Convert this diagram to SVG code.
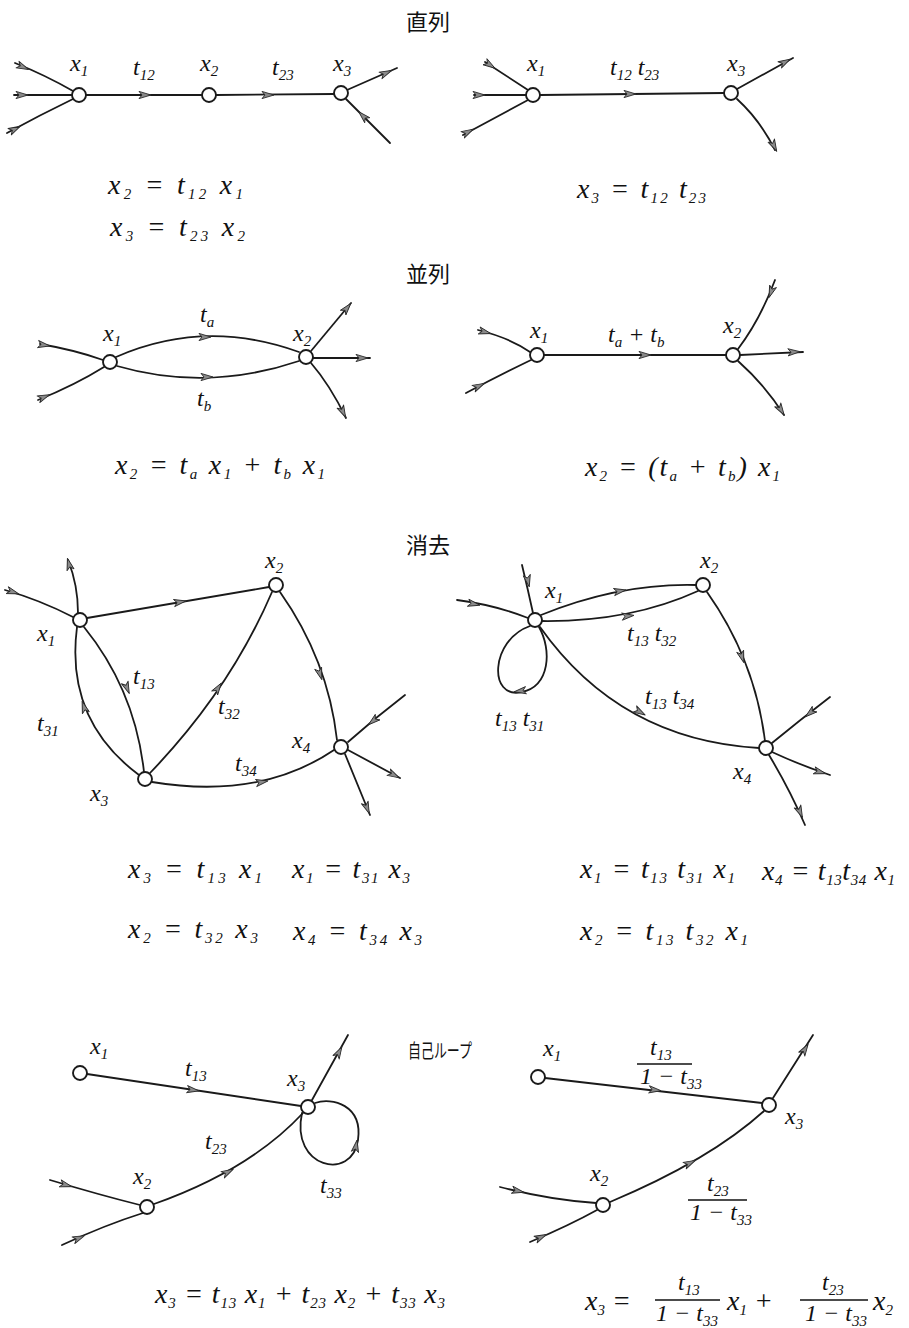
<svg xmlns="http://www.w3.org/2000/svg" xmlns:xlink="http://www.w3.org/1999/xlink" width="909" height="1328" viewBox="0 0 909 1328">
<style>
.e{fill:none;stroke:#1a1a1a;stroke-width:1.8;stroke-linecap:round}
.n{fill:#fff;stroke:#1a1a1a;stroke-width:1.9}
.lb{font-family:"Liberation Serif",serif;font-style:italic;font-size:24px;fill:#111}
.eq{font-family:"Liberation Serif",serif;font-style:italic;font-size:28px;fill:#111}
.sb{font-size:15px}
.ttl{font-family:"Noto Sans CJK JP","Noto Sans CJK SC",sans-serif;font-size:22px;fill:#111;text-anchor:middle}
.fr{stroke:#111;stroke-width:1.4}
</style>
<defs>
<path id="ah" d="M6,0 L-6,-3.6 L-3,0 L-6,3.6 Z" fill="#8a8a8a" stroke="#2a2a2a" stroke-width="0.9" stroke-linejoin="round"/>
</defs>
<rect width="909" height="1328" fill="#fff"/>

<!-- titles -->
<g id="titles">
<text class="ttl" x="428" y="30">直列</text>
<text class="ttl" x="428" y="282">並列</text>
<text class="ttl" x="428" y="553">消去</text>
<text class="ttl" x="440" y="1058" style="font-size:19px" textLength="64" lengthAdjust="spacingAndGlyphs">自己ループ</text>
</g>

<g id="connectors">
<!-- S1 left -->
<path class="e" d="M15,63 Q45,75 73,91"/><use xlink:href="#ah" transform="translate(23,67) rotate(24)"/>
<path class="e" d="M14,95 L72,95"/><use xlink:href="#ah" transform="translate(22,95)"/>
<path class="e" d="M7,133 Q40,115 73,99"/><use xlink:href="#ah" transform="translate(15,129) rotate(-27)"/>
<path class="e" d="M86,95 L202,95"/><use xlink:href="#ah" transform="translate(145,95)"/>
<path class="e" d="M216,95 L334,94"/><use xlink:href="#ah" transform="translate(268,95)"/>
<path class="e" d="M347,90 L397,68"/><use xlink:href="#ah" transform="translate(386,73) rotate(-24)"/>
<path class="e" d="M390,143 L346,99"/><use xlink:href="#ah" transform="translate(363,116) rotate(-135)"/>
<!-- S1 right -->
<path class="e" d="M485,62 L528,90"/><use xlink:href="#ah" transform="translate(490,65) rotate(33)"/>
<path class="e" d="M474,95 L526,95"/><use xlink:href="#ah" transform="translate(479,95)"/>
<path class="e" d="M463,135 L528,100"/><use xlink:href="#ah" transform="translate(468,132) rotate(-28)"/>
<path class="e" d="M540,95 L724,93"/><use xlink:href="#ah" transform="translate(630,94)"/>
<path class="e" d="M737,89 L793,58"/><use xlink:href="#ah" transform="translate(785,62) rotate(-29)"/>
<path class="e" d="M737,99 Q760,120 775,150"/><use xlink:href="#ah" transform="translate(774,146) rotate(63)"/>
<!-- S2 left -->
<path class="e" d="M116,357 Q205,318 299,352"/><use xlink:href="#ah" transform="translate(205,337)"/>
<path class="e" d="M117,366 Q207,392 299,361"/><use xlink:href="#ah" transform="translate(207,377)"/>
<path class="e" d="M40,344 Q75,350 103,360"/><use xlink:href="#ah" transform="translate(44,345) rotate(9)"/>
<path class="e" d="M38,400 Q75,385 104,367"/><use xlink:href="#ah" transform="translate(44,397) rotate(-22)"/>
<path class="e" d="M311,351 L351,303"/><use xlink:href="#ah" transform="translate(347,308) rotate(-50)"/>
<path class="e" d="M313,358 L370,358"/><use xlink:href="#ah" transform="translate(362,358)"/>
<path class="e" d="M311,363 Q330,385 346,418"/><use xlink:href="#ah" transform="translate(343,412) rotate(64)"/>
<!-- S2 right -->
<path class="e" d="M478,330 Q510,338 530,352"/><use xlink:href="#ah" transform="translate(485,332) rotate(15)"/>
<path class="e" d="M466,393 Q500,375 531,360"/><use xlink:href="#ah" transform="translate(479,386) rotate(-26)"/>
<path class="e" d="M544,355 L726,355"/><use xlink:href="#ah" transform="translate(645,355)"/>
<path class="e" d="M775,280 Q760,320 738,349"/><use xlink:href="#ah" transform="translate(771,292) rotate(110)"/>
<path class="e" d="M740,355 L803,352"/><use xlink:href="#ah" transform="translate(794,352) rotate(-3)"/>
<path class="e" d="M738,361 Q765,385 784,415"/><use xlink:href="#ah" transform="translate(781,410) rotate(58)"/>
<!-- S3 left -->
<path class="e" d="M87,618 L269,587"/><use xlink:href="#ah" transform="translate(180,602) rotate(-10)"/>
<path class="e" d="M280,592 Q328,660 337,740"/><use xlink:href="#ah" transform="translate(320,674) rotate(72)"/>
<path class="e" d="M84,627 Q135,690 144,772"/><use xlink:href="#ah" transform="translate(127,688) rotate(68)"/>
<path class="e" d="M139,775 Q65,720 77,627"/><use xlink:href="#ah" transform="translate(84,707) rotate(-108)"/>
<path class="e" d="M150,773 Q230,690 272,592"/><use xlink:href="#ah" transform="translate(218,688) rotate(-56)"/>
<path class="e" d="M152,782 Q260,800 334,750"/><use xlink:href="#ah" transform="translate(262,782) rotate(-10)"/>
<path class="e" d="M5,590 Q40,600 73,617"/><use xlink:href="#ah" transform="translate(13,592) rotate(18)"/>
<path class="e" d="M78,613 Q78,585 68,560"/><use xlink:href="#ah" transform="translate(69,564) rotate(-105)"/>
<path class="e" d="M405,695 Q375,718 348,742"/><use xlink:href="#ah" transform="translate(373,721) rotate(140)"/>
<path class="e" d="M348,750 L400,778"/><use xlink:href="#ah" transform="translate(394,775) rotate(28)"/>
<path class="e" d="M345,754 L370,815"/><use xlink:href="#ah" transform="translate(367,808) rotate(68)"/>
<!-- S3 right -->
<path class="e" d="M541,615 Q620,583 696,585"/><use xlink:href="#ah" transform="translate(620,591) rotate(-10)"/>
<path class="e" d="M542,621 Q630,622 698,591"/><use xlink:href="#ah" transform="translate(628,616) rotate(-6)"/>
<path class="e" d="M540,627 Q620,740 759,748"/><use xlink:href="#ah" transform="translate(640,712) rotate(30)"/>
<path class="e" d="M707,592 Q755,660 765,741"/><use xlink:href="#ah" transform="translate(742,657) rotate(72)"/>
<path class="e" d="M530,626 C490,640 488,700 522,692 C550,686 552,650 539,627"/><use xlink:href="#ah" transform="translate(520,691) rotate(172)"/>
<path class="e" d="M522,565 Q528,590 533,613"/><use xlink:href="#ah" transform="translate(528,581) rotate(78)"/>
<path class="e" d="M457,600 Q495,605 528,618"/><use xlink:href="#ah" transform="translate(474,604) rotate(12)"/>
<path class="e" d="M830,697 Q800,720 772,743"/><use xlink:href="#ah" transform="translate(810,713) rotate(140)"/>
<path class="e" d="M772,752 Q800,765 830,775"/><use xlink:href="#ah" transform="translate(820,772) rotate(16)"/>
<path class="e" d="M769,755 Q790,790 805,825"/><use xlink:href="#ah" transform="translate(800,812) rotate(66)"/>
<!-- S4 left -->
<path class="e" d="M87,1074 L301,1106"/><use xlink:href="#ah" transform="translate(193,1090) rotate(8.5)"/>
<path class="e" d="M154,1204 Q250,1170 303,1113"/><use xlink:href="#ah" transform="translate(228,1172) rotate(-28)"/>
<path class="e" d="M302,1113 C290,1168 352,1182 358,1140 C363,1105 332,1097 315,1103"/><use xlink:href="#ah" transform="translate(356,1146) rotate(-80)"/>
<path class="e" d="M312,1100 L348,1035"/><use xlink:href="#ah" transform="translate(339,1052) rotate(-61)"/>
<path class="e" d="M50,1180 Q100,1195 140,1205"/><use xlink:href="#ah" transform="translate(66,1185) rotate(16)"/>
<path class="e" d="M62,1245 Q105,1225 143,1213"/><use xlink:href="#ah" transform="translate(79,1238) rotate(-22)"/>
<!-- S4 right -->
<path class="e" d="M545,1078 L762,1103"/><use xlink:href="#ah" transform="translate(655,1090) rotate(6.5)"/>
<path class="e" d="M610,1202 Q710,1160 764,1111"/><use xlink:href="#ah" transform="translate(690,1163) rotate(-26)"/>
<path class="e" d="M773,1098 L813,1035"/><use xlink:href="#ah" transform="translate(805,1049) rotate(-58)"/>
<path class="e" d="M500,1187 Q550,1200 596,1203"/><use xlink:href="#ah" transform="translate(518,1191) rotate(12)"/>
<path class="e" d="M530,1242 Q570,1225 597,1210"/><use xlink:href="#ah" transform="translate(541,1237) rotate(-25)"/>
</g>

<!-- nodes: series -->
<g id="s1L_x1"><circle class="n" cx="79" cy="95" r="7"/><text class="lb" x="70" y="71">x<tspan class="sb" dy="5">1</tspan></text></g>
<g id="s1L_x2"><circle class="n" cx="209" cy="95" r="7"/><text class="lb" x="200" y="71">x<tspan class="sb" dy="5">2</tspan></text></g>
<g id="s1L_x3"><circle class="n" cx="341" cy="93" r="7"/><text class="lb" x="333" y="71">x<tspan class="sb" dy="5">3</tspan></text></g>
<g id="s1L_labels">
<text class="lb" x="133" y="75">t<tspan class="sb" dy="5">12</tspan></text>
<text class="lb" x="272" y="75">t<tspan class="sb" dy="5">23</tspan></text>
<text class="eq" x="108" y="194" textLength="135">x<tspan class="sb" dy="5">2</tspan><tspan dy="-5"> = t</tspan><tspan class="sb" dy="5">12</tspan><tspan dy="-5"> x</tspan><tspan class="sb" dy="5">1</tspan></text>
<text class="eq" x="110" y="236" textLength="135">x<tspan class="sb" dy="5">3</tspan><tspan dy="-5"> = t</tspan><tspan class="sb" dy="5">23</tspan><tspan dy="-5"> x</tspan><tspan class="sb" dy="5">2</tspan></text>
</g>
<g id="s1R_x1"><circle class="n" cx="533" cy="95" r="7"/><text class="lb" x="527" y="71">x<tspan class="sb" dy="5">1</tspan></text></g>
<g id="s1R_x3"><circle class="n" cx="731" cy="93" r="7"/><text class="lb" x="727" y="71">x<tspan class="sb" dy="5">3</tspan></text></g>
<g id="s1R_labels">
<text class="lb" x="610" y="75">t<tspan class="sb" dy="5">12</tspan><tspan dy="-5"> t</tspan><tspan class="sb" dy="5">23</tspan></text>
<text class="eq" x="577" y="198" textLength="129">x<tspan class="sb" dy="5">3</tspan><tspan dy="-5"> = t</tspan><tspan class="sb" dy="5">12</tspan><tspan dy="-5"> t</tspan><tspan class="sb" dy="5">23</tspan></text>
</g>

<!-- parallel -->
<g id="s2L_x1"><circle class="n" cx="110" cy="362" r="7"/><text class="lb" x="103" y="341">x<tspan class="sb" dy="5">1</tspan></text></g>
<g id="s2L_x2"><circle class="n" cx="306" cy="357" r="7"/><text class="lb" x="293" y="341">x<tspan class="sb" dy="5">2</tspan></text></g>
<g id="s2L_labels">
<text class="lb" x="200" y="322">t<tspan class="sb" dy="5">a</tspan></text>
<text class="lb" x="197" y="406">t<tspan class="sb" dy="5">b</tspan></text>
<text class="eq" x="115" y="474" textLength="210">x<tspan class="sb" dy="5">2</tspan><tspan dy="-5"> = t</tspan><tspan class="sb" dy="5">a</tspan><tspan dy="-5"> x</tspan><tspan class="sb" dy="5">1</tspan><tspan dy="-5"> + t</tspan><tspan class="sb" dy="5">b</tspan><tspan dy="-5"> x</tspan><tspan class="sb" dy="5">1</tspan></text>
</g>
<g id="s2R_x1"><circle class="n" cx="537" cy="355" r="7"/><text class="lb" x="530" y="338">x<tspan class="sb" dy="5">1</tspan></text></g>
<g id="s2R_x2"><circle class="n" cx="733" cy="355" r="7"/><text class="lb" x="723" y="333">x<tspan class="sb" dy="5">2</tspan></text></g>
<g id="s2R_labels">
<text class="lb" x="608" y="342">t<tspan class="sb" dy="5">a</tspan><tspan dy="-5"> + t</tspan><tspan class="sb" dy="5">b</tspan></text>
<text class="eq" x="585" y="476" textLength="195">x<tspan class="sb" dy="5">2</tspan><tspan dy="-5"> = (t</tspan><tspan class="sb" dy="5">a</tspan><tspan dy="-5"> + t</tspan><tspan class="sb" dy="5">b</tspan><tspan dy="-5">) x</tspan><tspan class="sb" dy="5">1</tspan></text>
</g>

<!-- elimination -->
<g id="s3L_x1"><circle class="n" cx="80" cy="620" r="7"/><text class="lb" x="37" y="641">x<tspan class="sb" dy="5">1</tspan></text></g>
<g id="s3L_x2"><circle class="n" cx="276" cy="585" r="7"/><text class="lb" x="265" y="568">x<tspan class="sb" dy="5">2</tspan></text></g>
<g id="s3L_x3"><circle class="n" cx="145" cy="779" r="7"/><text class="lb" x="90" y="801">x<tspan class="sb" dy="5">3</tspan></text></g>
<g id="s3L_x4"><circle class="n" cx="341" cy="747" r="7"/><text class="lb" x="292" y="748">x<tspan class="sb" dy="5">4</tspan></text></g>
<g id="s3L_labels">
<text class="lb" x="133" y="684">t<tspan class="sb" dy="5">13</tspan></text>
<text class="lb" x="37" y="731">t<tspan class="sb" dy="5">31</tspan></text>
<text class="lb" x="218" y="714">t<tspan class="sb" dy="5">32</tspan></text>
<text class="lb" x="235" y="771">t<tspan class="sb" dy="5">34</tspan></text>
<text class="eq" x="128" y="878" textLength="134">x<tspan class="sb" dy="5">3</tspan><tspan dy="-5"> = t</tspan><tspan class="sb" dy="5">13</tspan><tspan dy="-5"> x</tspan><tspan class="sb" dy="5">1</tspan></text>
<text class="eq" x="292" y="878" textLength="118">x<tspan class="sb" dy="5">1</tspan><tspan dy="-5"> = t</tspan><tspan class="sb" dy="5">31</tspan><tspan dy="-5"> x</tspan><tspan class="sb" dy="5">3</tspan></text>
<text class="eq" x="128" y="938" textLength="130">x<tspan class="sb" dy="5">2</tspan><tspan dy="-5"> = t</tspan><tspan class="sb" dy="5">32</tspan><tspan dy="-5"> x</tspan><tspan class="sb" dy="5">3</tspan></text>
<text class="eq" x="293" y="940" textLength="129">x<tspan class="sb" dy="5">4</tspan><tspan dy="-5"> = t</tspan><tspan class="sb" dy="5">34</tspan><tspan dy="-5"> x</tspan><tspan class="sb" dy="5">3</tspan></text>
</g>
<g id="s3R_x1"><circle class="n" cx="535" cy="620" r="7"/><text class="lb" x="545" y="598">x<tspan class="sb" dy="5">1</tspan></text></g>
<g id="s3R_x2"><circle class="n" cx="703" cy="585" r="7"/><text class="lb" x="700" y="568">x<tspan class="sb" dy="5">2</tspan></text></g>
<g id="s3R_x4"><circle class="n" cx="766" cy="748" r="7"/><text class="lb" x="733" y="779">x<tspan class="sb" dy="5">4</tspan></text></g>
<g id="s3R_labels">
<text class="lb" x="627" y="641">t<tspan class="sb" dy="5">13</tspan><tspan dy="-5"> t</tspan><tspan class="sb" dy="5">32</tspan></text>
<text class="lb" x="645" y="704">t<tspan class="sb" dy="5">13</tspan><tspan dy="-5"> t</tspan><tspan class="sb" dy="5">34</tspan></text>
<text class="lb" x="495" y="726">t<tspan class="sb" dy="5">13</tspan><tspan dy="-5"> t</tspan><tspan class="sb" dy="5">31</tspan></text>
<text class="eq" x="580" y="878" textLength="155">x<tspan class="sb" dy="5">1</tspan><tspan dy="-5"> = t</tspan><tspan class="sb" dy="5">13</tspan><tspan dy="-5"> t</tspan><tspan class="sb" dy="5">31</tspan><tspan dy="-5"> x</tspan><tspan class="sb" dy="5">1</tspan></text>
<text class="eq" x="762" y="880" textLength="133">x<tspan class="sb" dy="5">4</tspan><tspan dy="-5"> = t</tspan><tspan class="sb" dy="5">13</tspan><tspan dy="-5">t</tspan><tspan class="sb" dy="5">34</tspan><tspan dy="-5"> x</tspan><tspan class="sb" dy="5">1</tspan></text>
<text class="eq" x="580" y="940" textLength="168">x<tspan class="sb" dy="5">2</tspan><tspan dy="-5"> = t</tspan><tspan class="sb" dy="5">13</tspan><tspan dy="-5"> t</tspan><tspan class="sb" dy="5">32</tspan><tspan dy="-5"> x</tspan><tspan class="sb" dy="5">1</tspan></text>
</g>

<!-- self loop -->
<g id="s4L_x1"><circle class="n" cx="80" cy="1073" r="7"/><text class="lb" x="90" y="1054">x<tspan class="sb" dy="5">1</tspan></text></g>
<g id="s4L_x3"><circle class="n" cx="308" cy="1107" r="7"/><text class="lb" x="287" y="1086">x<tspan class="sb" dy="5">3</tspan></text></g>
<g id="s4L_x2"><circle class="n" cx="147" cy="1207" r="7"/><text class="lb" x="133" y="1184">x<tspan class="sb" dy="5">2</tspan></text></g>
<g id="s4L_labels">
<text class="lb" x="185" y="1076">t<tspan class="sb" dy="5">13</tspan></text>
<text class="lb" x="205" y="1149">t<tspan class="sb" dy="5">23</tspan></text>
<text class="lb" x="320" y="1193">t<tspan class="sb" dy="5">33</tspan></text>
<text class="eq" x="155" y="1303" textLength="290">x<tspan class="sb" dy="5">3</tspan><tspan dy="-5"> = t</tspan><tspan class="sb" dy="5">13</tspan><tspan dy="-5"> x</tspan><tspan class="sb" dy="5">1</tspan><tspan dy="-5"> + t</tspan><tspan class="sb" dy="5">23</tspan><tspan dy="-5"> x</tspan><tspan class="sb" dy="5">2</tspan><tspan dy="-5"> + t</tspan><tspan class="sb" dy="5">33</tspan><tspan dy="-5"> x</tspan><tspan class="sb" dy="5">3</tspan></text>
</g>
<g id="s4R_x1"><circle class="n" cx="538" cy="1077" r="7"/><text class="lb" x="543" y="1056">x<tspan class="sb" dy="5">1</tspan></text></g>
<g id="s4R_x3"><circle class="n" cx="769" cy="1105" r="7"/><text class="lb" x="785" y="1124">x<tspan class="sb" dy="5">3</tspan></text></g>
<g id="s4R_x2"><circle class="n" cx="603" cy="1205" r="7"/><text class="lb" x="590" y="1181">x<tspan class="sb" dy="5">2</tspan></text></g>
<g id="s4R_labels">
<text class="lb" x="650" y="1055">t<tspan class="sb" dy="5">13</tspan></text>
<line class="fr" x1="637" y1="1064" x2="692" y2="1064"/>
<text class="lb" x="640" y="1084">1 − t<tspan class="sb" dy="5">33</tspan></text>
<text class="lb" x="707" y="1191">t<tspan class="sb" dy="5">23</tspan></text>
<line class="fr" x1="688" y1="1200" x2="747" y2="1200"/>
<text class="lb" x="690" y="1220">1 − t<tspan class="sb" dy="5">33</tspan></text>
<text class="eq" x="585" y="1310">x<tspan class="sb" dy="5">3</tspan><tspan dy="-5"> =</tspan></text>
<text class="lb" x="678" y="1290">t<tspan class="sb" dy="5">13</tspan></text>
<line class="fr" x1="655" y1="1300" x2="720" y2="1300"/>
<text class="lb" x="656" y="1321">1 − t<tspan class="sb" dy="5">33</tspan></text>
<text class="eq" x="727" y="1310">x<tspan class="sb" dy="5">1</tspan><tspan dy="-5"> +</tspan></text>
<text class="lb" x="822" y="1290">t<tspan class="sb" dy="5">23</tspan></text>
<line class="fr" x1="800" y1="1300" x2="868" y2="1300"/>
<text class="lb" x="805" y="1321">1 − t<tspan class="sb" dy="5">33</tspan></text>
<text class="eq" x="873" y="1310">x<tspan class="sb" dy="5">2</tspan></text>
</g>
</svg>
